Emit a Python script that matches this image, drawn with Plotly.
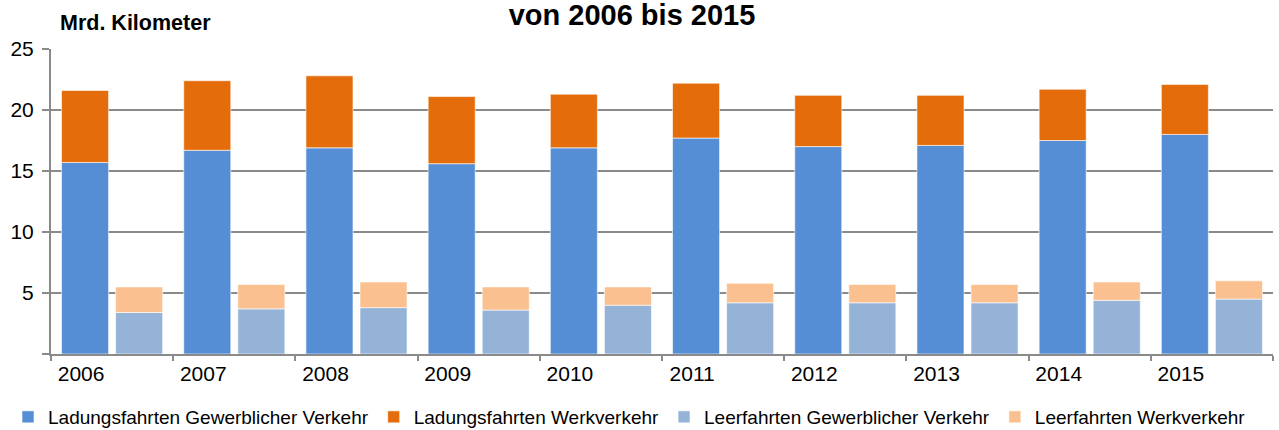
import plotly.graph_objects as go

years = ["2006", "2007", "2008", "2009", "2010", "2011", "2012", "2013", "2014", "2015"]
ladung_gewerblich = [15.7, 16.7, 16.9, 15.6, 16.9, 17.7, 17.0, 17.1, 17.5, 18.0]
ladung_werk = [5.9, 5.7, 5.9, 5.5, 4.4, 4.5, 4.2, 4.1, 4.2, 4.1]
leer_gewerblich = [3.4, 3.7, 3.8, 3.6, 4.0, 4.2, 4.2, 4.2, 4.4, 4.5]
leer_werk = [2.1, 2.0, 2.1, 1.9, 1.5, 1.6, 1.5, 1.5, 1.5, 1.5]

names = ["Ladungsfahrten Gewerblicher Verkehr", "Ladungsfahrten Werkverkehr",
         "Leerfahrten Gewerblicher Verkehr", "Leerfahrten Werkverkehr"]
colors = ["#558ED5", "#E46C0A", "#95B3D7", "#FAC090"]

FONT = "Liberation Sans, Arial, sans-serif"
line = dict(color="rgba(255,255,255,0.6)", width=1)

fig = go.Figure()
fig.add_trace(go.Bar(x=years, y=ladung_gewerblich, name=names[0], offsetgroup="ladung",
                     marker=dict(color=colors[0], line=line)))
fig.add_trace(go.Bar(x=years, y=ladung_werk, base=ladung_gewerblich, name=names[1], offsetgroup="ladung",
                     marker=dict(color=colors[1], line=line)))
fig.add_trace(go.Bar(x=years, y=leer_gewerblich, name=names[2], offsetgroup="leer",
                     marker=dict(color=colors[2], line=line)))
fig.add_trace(go.Bar(x=years, y=leer_werk, base=leer_gewerblich, name=names[3], offsetgroup="leer",
                     marker=dict(color=colors[3], line=line)))

grid = "#8a8a8a"
fig.update_layout(
    width=1279, height=430,
    margin=dict(l=51, r=6, t=49, b=76, autoexpand=False),
    plot_bgcolor="white", paper_bgcolor="white",
    barmode="group", bargap=0.115, bargroupgap=0.13,
    font=dict(family=FONT, color="#000000", size=21),
    title=dict(text="<b>von 2006 bis 2015</b>", font=dict(size=29, family=FONT, color="#000"),
               x=632/1279, xanchor="center", xref="container",
               y=1 - 15/430, yanchor="middle", yref="container"),
    legend=dict(orientation="h", xref="paper", yref="paper",
                x=(8 - 51) / 1222, xanchor="left", y=(354 - 417) / 305, yanchor="middle",
                font=dict(size=19, family=FONT, color="#000"),
                traceorder="normal", itemwidth=30),
    xaxis=dict(type="category", showgrid=False, showline=True, linecolor=grid, linewidth=2,
               ticks="outside", tickson="boundaries", ticklen=5, tickwidth=2, tickcolor=grid,
               ticklabelshift=-31, tickfont=dict(size=21), range=[-0.5, 9.5], automargin=False),
    yaxis=dict(range=[0, 25], tickvals=[0, 5, 10, 15, 20, 25], ticktext=["", "5", "10", "15", "20", "25"],
               showgrid=True, gridcolor=grid, gridwidth=2, showline=True, linecolor=grid, linewidth=2,
               ticks="outside", ticklen=7, tickwidth=2, tickcolor=grid, zeroline=False,
               ticklabelstandoff=4, tickfont=dict(size=21), automargin=False),
    annotations=[dict(text="<b>Mrd. Kilometer</b>", xref="paper", yref="paper",
                      x=(58 - 51) / 1222, xanchor="left", y=(354 - 23) / 305, yanchor="middle",
                      showarrow=False, font=dict(size=21.5, family=FONT, color="#000"))],
)

fig.write_html("out.html", config={"displayModeBar": False},
               post_script="document.body.style.margin='0px';")
